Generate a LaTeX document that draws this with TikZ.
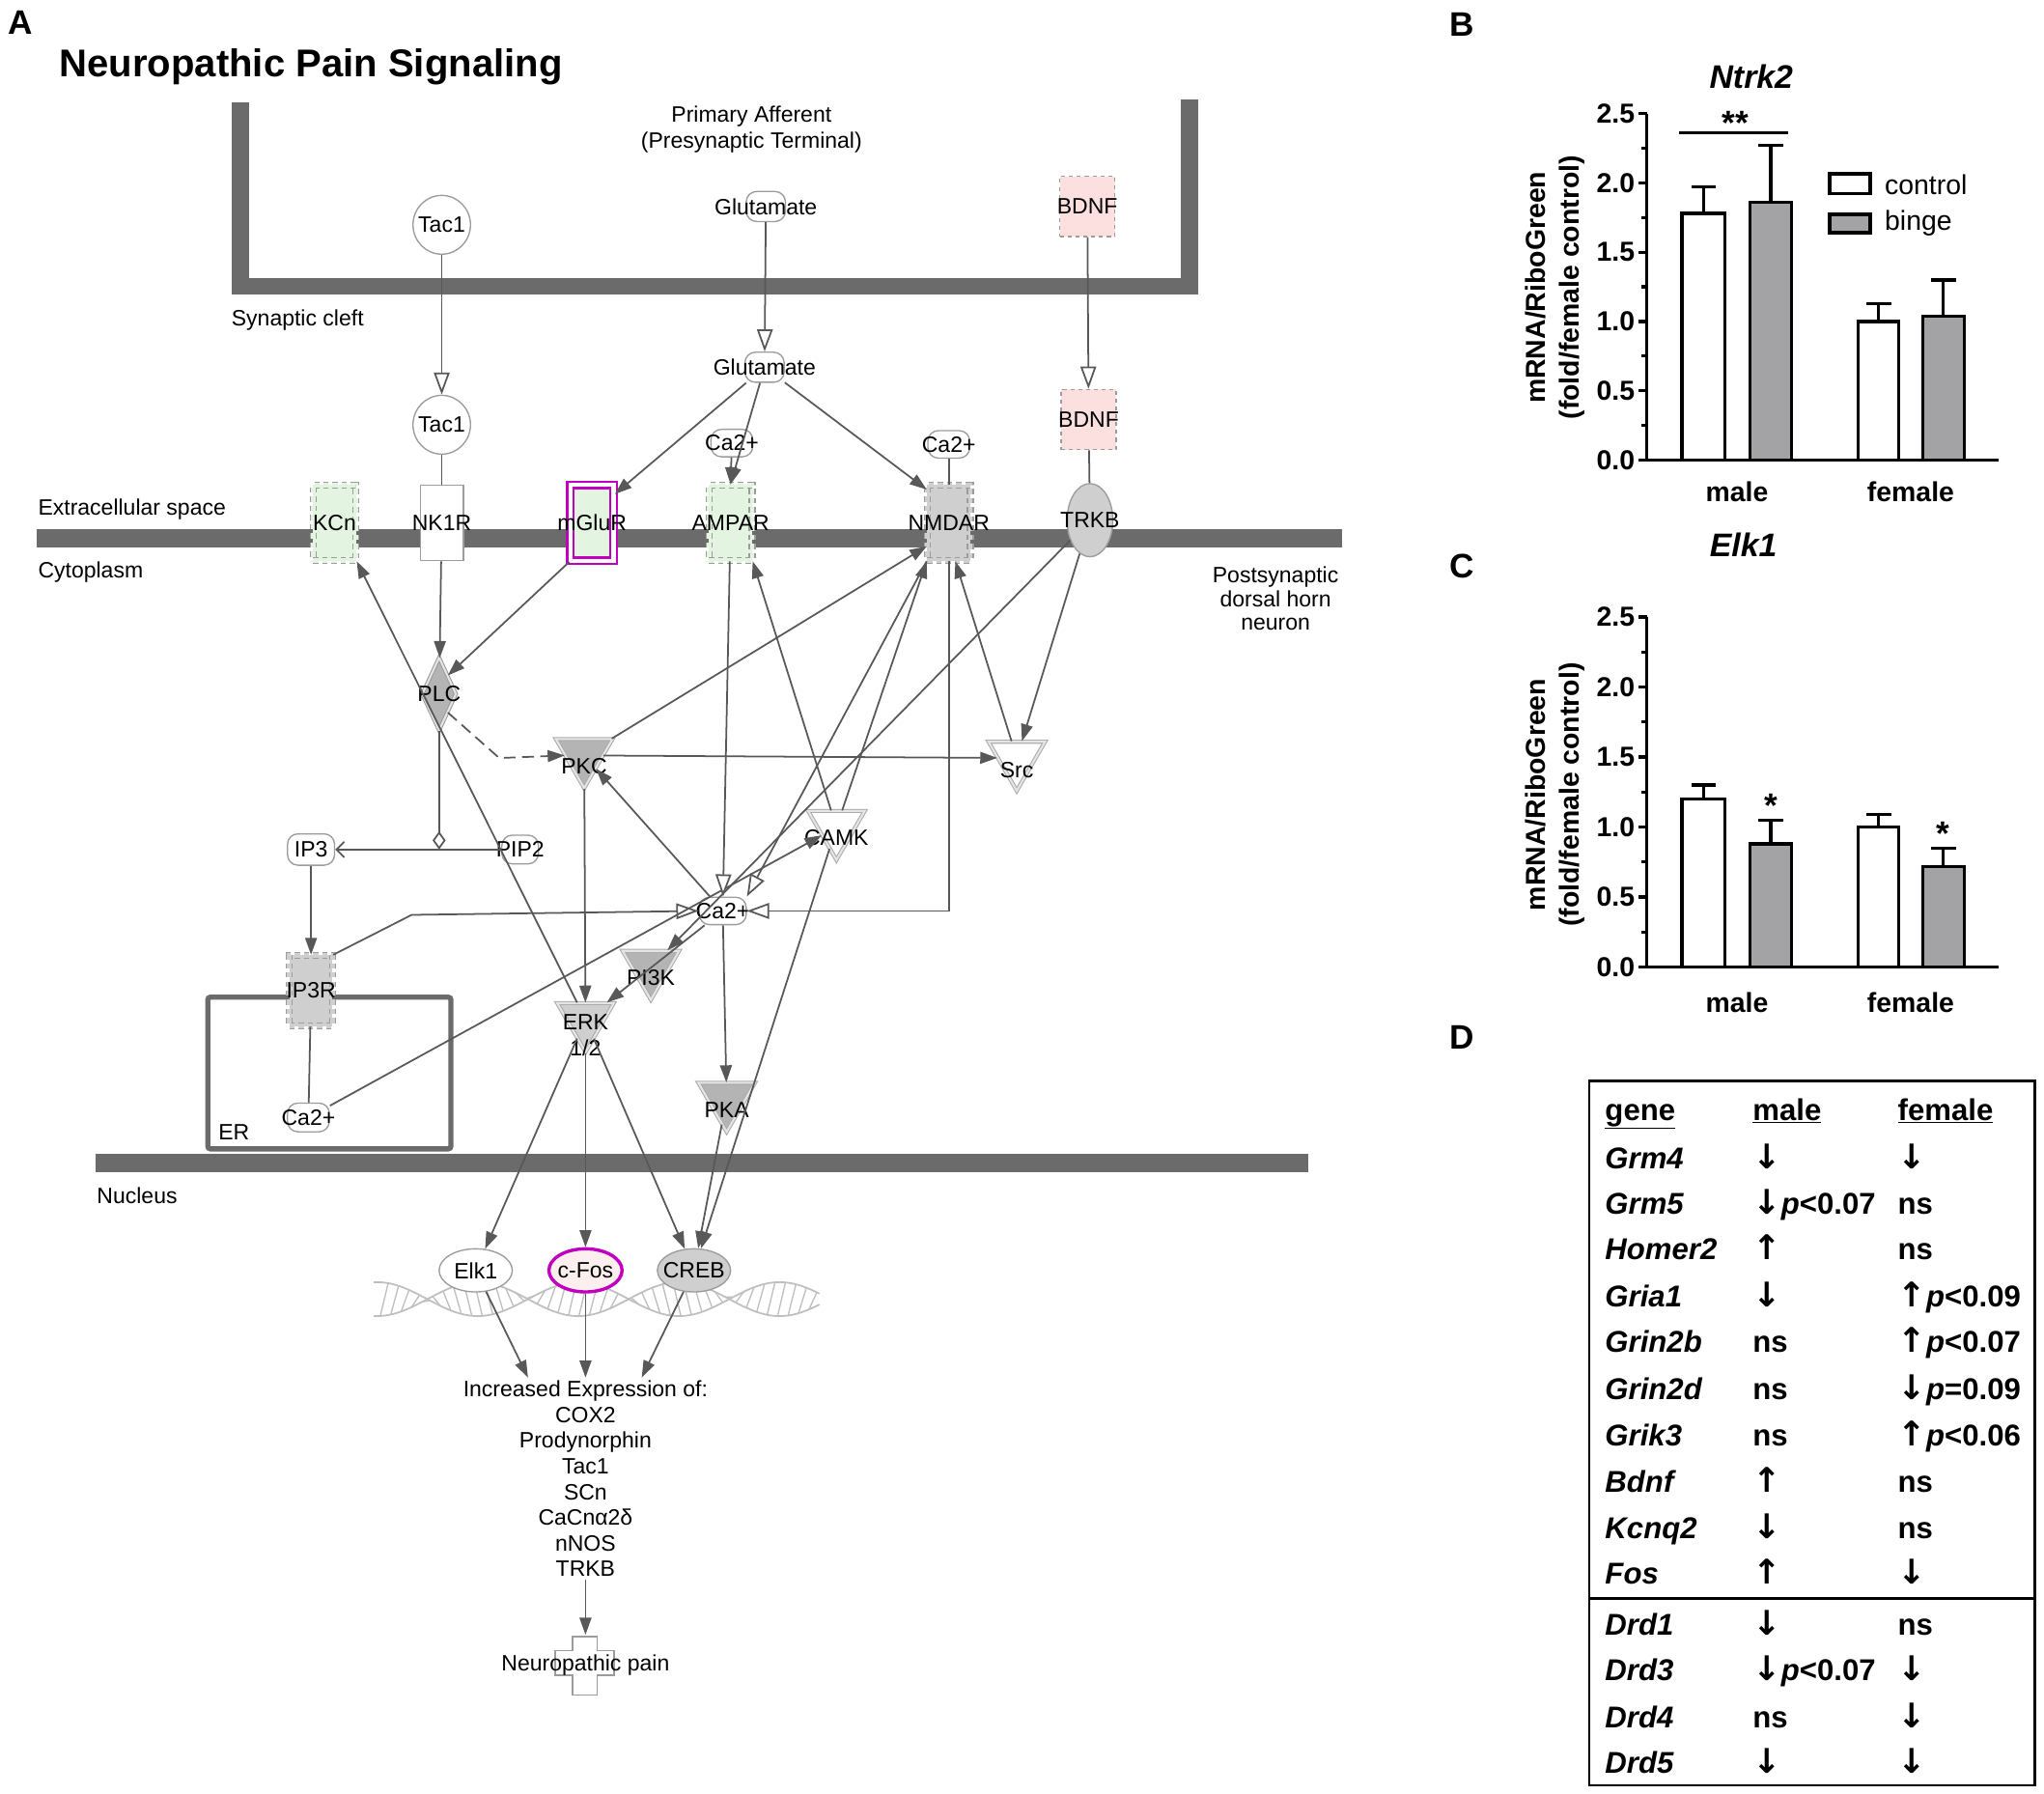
\documentclass[tikz,border=0pt]{standalone}
\usepackage{fontspec}
\setmainfont{Liberation Sans}
\newfontfamily\arrfont{DejaVu Sans}
\usetikzlibrary{arrows.meta, positioning, shapes.geometric}

\definecolor{membgray}{HTML}{6B6B6B}
\definecolor{linkgray}{HTML}{585858}
\definecolor{molgray}{HTML}{9C9C9C}
\definecolor{grnfill}{HTML}{E3F5E0}
\definecolor{pnkfill}{HTML}{FCE0E0}
\definecolor{gryfill}{HTML}{CFCFCF}
\definecolor{kingray}{HTML}{B4B4B4}
\definecolor{hilite}{HTML}{C000C0}
\definecolor{bingegray}{HTML}{A3A3A6}

\newcommand{\ovr}[1]{\makebox[0pt]{#1}}
\newcommand{\pv}[1]{\textit{p}#1}
\newcommand{\dn}{{\arrfont\bfseries\fontsize{26}{27}\selectfont ↓}}
\newcommand{\up}{{\arrfont\bfseries\fontsize{26}{27}\selectfont ↑}}

\tikzset{
  lbl/.style={font=\fontsize{17}{20}\selectfont},
  txt/.style={lbl, inner sep=1pt},
  memb/.style={draw=membgray, line width=14pt},
  link/.style={draw=linkgray, line width=1.3pt},
  act/.style={link, -{Triangle[length=13pt,width=9pt]}},
  trans/.style={link, -{Triangle[open,length=17pt,width=12pt,fill=white]}},
  mol/.style={lbl, draw=molgray, fill=white, line width=1pt, inner sep=0pt},
  smallmol/.style={mol, rounded corners=8pt, minimum width=30pt, minimum height=23pt},
  tac/.style={mol, ellipse, minimum width=44pt, minimum height=45pt},
  pinkrec/.style={mol, dashed, fill=pnkfill, minimum width=42pt, minimum height=46pt},
  rec/.style={mol, minimum width=33pt, minimum height=58pt},
  greenrec/.style={rec, dash pattern=on 4pt off 3pt, fill=grnfill, double=grnfill, double distance=3.5pt, line width=0.9pt},
  grayrec/.style={rec, dash pattern=on 4pt off 3pt, fill=gryfill, double=gryfill, double distance=3.5pt, line width=0.9pt},
  mglu/.style={rec, draw=hilite, line width=1.8pt, double=white, double distance=3pt, fill=grnfill},
  trk/.style={mol, ellipse, fill=gryfill, minimum width=35pt, minimum height=56pt},
  plcsh/.style={mol, diamond, fill=kingray, minimum width=26pt, minimum height=56pt, double=gray!20, double distance=1.5pt, line width=0.8pt},
  kin/.style={regular polygon, regular polygon sides=3, shape border rotate=180, minimum size=50pt, inner sep=0pt, draw=gray!65, line width=0.8pt, double=gray!20, double distance=1.5pt, fill=#1},
  nf/.style={mol, ellipse, minimum width=56pt, minimum height=33pt},
  dna/.style={draw=gray!50, line width=1.3pt},
  chaxis/.style={draw=black, line width=2.4pt},
  cbar/.style={draw=black, line width=2.4pt, fill=#1},
  ticklbl/.style={font=\bfseries\fontsize{21}{24}\selectfont, inner sep=0pt},
  cat/.style={font=\bfseries\fontsize{21}{24}\selectfont},
  ylab/.style={font=\bfseries\fontsize{21}{26}\selectfont, rotate=90, align=center},
  gtitle/.style={font=\bfseries\itshape\fontsize{25}{28}\selectfont},
  leg/.style={font=\fontsize{21}{24}\selectfont, anchor=west, inner sep=0pt},
  sig/.style={font=\bfseries\fontsize{26}{28}\selectfont},
  pnl/.style={font=\bfseries\fontsize{26}{28}\selectfont},
  tab/.style={font=\bfseries\fontsize{23}{27}\selectfont, anchor=base west, inner sep=0pt}
}

\begin{document}
\begin{tikzpicture}[x=1pt, y=-1pt]
\useasboundingbox (0,0) rectangle (1564,1372);

% Panel A: pathway
\node[pnl] (lA) at (16,17) {A};
\node[anchor=west, font=\bfseries\fontsize{29.6}{32}\selectfont] (title) at (42,51) {Neuropathic Pain Signaling};

% compartments
\draw[memb, line width=13pt] (184,78) -- (184,219) -- (910,219) -- (910,76);
\draw[memb] (28,412) -- (1027,412);
\draw[memb] (73,890) -- (1001,890);
\draw[draw=membgray, line width=4pt, rounded corners=2pt] (159,763) rectangle (345,879);
\node[lbl, align=center] (pa) at (575,99) {Primary Afferent\\(Presynaptic Terminal)};
\node[txt, anchor=west] (cleft) at (176,245) {Synaptic cleft};
\node[txt, anchor=west] (ecs) at (28,390) {Extracellular space};
\node[txt, anchor=west] (cyto) at (28,438) {Cytoplasm};
\node[txt, align=center, font=\fontsize{17}{18}\selectfont] (post) at (976,458) {Postsynaptic\\dorsal horn\\neuron};
\node[txt, anchor=west] (nucl) at (73,915) {Nucleus};
\node[txt, anchor=west] (erl) at (166,866) {ER};

% presynaptic and cleft molecules
\node[tac] (tacA) at (338,172) {\ovr{Tac1}};
\node[smallmol] (gluA) at (586,158) {\ovr{Glutamate}};
\node[pinkrec] (bdnfA) at (832,158) {\ovr{BDNF}};
\node[tac] (tacB) at (338,325) {\ovr{Tac1}};
\node[smallmol] (gluB) at (585,281) {\ovr{Glutamate}};
\node[pinkrec] (bdnfB) at (833,321) {\ovr{BDNF}};
\node[smallmol, minimum width=32pt, minimum height=21pt] (caA) at (560,339) {\ovr{Ca2+}};
\node[smallmol, minimum width=32pt, minimum height=21pt] (caN) at (726,340) {\ovr{Ca2+}};

% membrane receptors
\node[greenrec] (kcn) at (256,400) {\ovr{KCn}};
\node[rec] (nk1r) at (338,400) {\ovr{NK1R}};
\node[mglu] (mglur) at (453,400) {\ovr{mGluR}};
\node[greenrec] (ampar) at (559,400) {\ovr{AMPAR}};
\node[grayrec] (nmdar) at (726,400) {\ovr{NMDAR}};
\node[trk] (trkb) at (834,398) {\ovr{TRKB}};

% cytoplasm
\node[plcsh] (plc) at (336,531) {\ovr{PLC}};
\node[kin=kingray, label={[lbl,yshift=-8pt]center:PKC}] (pkc) at (447,578) {};
\node[kin=white, label={[lbl,yshift=-9pt]center:Src}] (src) at (778,580) {};
\node[smallmol, minimum width=36pt, minimum height=24pt] (ip3) at (238,650) {\ovr{IP3}};
\node[smallmol, minimum width=28pt, minimum height=22pt] (pip2) at (398,650) {\ovr{PIP2}};
\coordinate (plcmid) at (336,650);
\node[kin=white, label={[lbl,yshift=-8pt]center:CAMK}] (camk) at (640,633) {};
\node[smallmol, minimum width=36pt, minimum height=21pt] (ca) at (553,697) {\ovr{Ca2+}};
\node[grayrec, minimum height=54pt] (ip3r) at (238,758) {\ovr{IP3R}};
\node[kin=kingray, label={[lbl,yshift=-8pt]center:PI3K}] (pi3k) at (498,740) {};
\node[kin=gryfill, label={[lbl,align=center,yshift=-12pt]center:ERK\\1/2}] (erk) at (448,780) {};
\node[smallmol, minimum width=32pt, minimum height=22pt] (caER) at (236,855) {\ovr{Ca2+}};
\node[kin=kingray, label={[lbl,yshift=-8pt]center:PKA}] (pka) at (556,841) {};

% nucleus
\draw[dna] plot[domain=286:627, samples=100] (\x, {994-13*sin(2.3377*(\x-327))});
\draw[dna] plot[domain=286:627, samples=100] (\x, {994+13*sin(2.3377*(\x-327))});
\foreach \x in {291,299,...,619}
  \draw[dna, line width=1pt] (\x,{994-13*sin(2.3377*(\x-327))}) -- (\x+6,{994+13*sin(2.3377*(\x-321))});
\node[nf] (elk1) at (364,972) {\ovr{Elk1}};
\node[nf, draw=hilite, line width=2.5pt, fill=pnkfill!50] (cfos) at (448,972) {\ovr{c-Fos}};
\node[nf, fill=gryfill] (creb) at (531,972) {\ovr{CREB}};
\node[lbl, align=center, anchor=north, inner sep=2pt, font=\fontsize{17}{19.7}\selectfont] (expr) at (448,1054)
  {Increased Expression of:\\COX2\\Prodynorphin\\Tac1\\SCn\\CaCnα2δ\\nNOS\\TRKB};
\draw[draw=molgray, fill=white, line width=1.2pt] (438,1252) -- (457,1252) -- (457,1263) -- (470,1263)
  -- (470,1282) -- (457,1282) -- (457,1297) -- (438,1297) -- (438,1282) -- (425,1282) -- (425,1263)
  -- (438,1263) -- cycle;
\node[lbl, minimum width=46pt, minimum height=46pt, inner sep=0pt] (pain) at (448,1274) {\ovr{Neuropathic pain}};

% connectors
\draw[trans] (tacA) -- (tacB);
\draw[trans] (gluA) -- (gluB);
\draw[trans] (bdnfA) -- (bdnfB);
\draw[link] (tacB) -- (nk1r);
\draw[link] (bdnfB) -- (trkb);
\draw[act] (gluB) -- ([yshift=-8pt]mglur.north east);
\draw[act] (gluB) -- (ampar.north);
\draw[act] (caA) -- (ampar.north);
\draw[act] (gluB) -- ([yshift=-4pt]nmdar.north west);
\draw[link] (caN) -- (nmdar);
\draw[act] (nk1r) -- (plc);
\draw[act] (mglur.south west) -- (plc.north east);
\draw[act, dash pattern=on 9pt off 5pt] (plc.south east) -- (382,580) -- (pkc.west);
\draw[link, -{Straight Barb[length=6pt,width=12pt]}] (pip2) -- (ip3);
\draw[link, -{Diamond[open,length=14pt,width=10pt,fill=white]}] (plc) -- (plcmid);
\draw[act] (ip3) -- (ip3r);
\draw[link] (ip3r) -- (caER);
\draw[trans] (ip3r.north east) -- (315,700) -- (ca.west);
\draw[act] (caER) -- (camk);
\draw[trans] (ampar) -- (ca);
\draw[trans] (nmdar.south west) -- (ca.north east);
\draw[trans] (nmdar.south) |- (ca.east);
\draw[act] (ca) -- (pkc);
\draw[act] (ca) -- (erk);
\draw[act] (ca) -- (pka);
\draw[act] (trkb) -- (pi3k);
\draw[act] (trkb) -- (src);
\draw[act] (pkc) -- (src);
\draw[act] (pkc) -- ([yshift=-18pt]nmdar.west);
\draw[act] (pkc) -- (erk);
\draw[act] (src) -- ([xshift=5pt]nmdar.south);
\draw[act] (camk) -- (ampar.south east);
\draw[act] (camk) -- (nmdar.south west);
\draw[act] (camk) -- (creb);
\draw[act] (pka) -- (creb);
\draw[act] (erk) -- (kcn.south east);
\draw[act] (erk) -- (elk1);
\draw[act] (erk) -- (cfos);
\draw[act] (erk) -- (creb);
\draw[act] (elk1) -- ([xshift=-44pt]expr.north);
\draw[act] (cfos) -- (expr.north);
\draw[act] (creb) -- ([xshift=43pt]expr.north);
\draw[act] (expr) -- (pain);

% Panel B: Ntrk2
\node[pnl] (lB) at (1119,19) {B};
\node[gtitle] (tB) at (1340,59) {Ntrk2};
\node[ylab] (yB) at (1190,220) {mRNA/RiboGreen\\(fold/female control)};
\begin{scope}[shift={(0,352)}, y=106pt]
  \foreach \v/\t [count=\i] in {0/0.0,0.5/0.5,1/1.0,1.5/1.5,2/2.0,2.5/2.5} {
    \draw[chaxis] (1254,\v) -- (1260,\v);
    \node[ticklbl, anchor=east] (bt\i) at (1251,\v) {\t};
  }
  \foreach \v in {0.25,0.75,...,2.25} \draw[chaxis] (1256,\v) -- (1260,\v);
  \draw[chaxis] (1260,2.5) -- (1260,0) -- (1529,0);
  \draw[chaxis] (1303.5,1.78) -- (1303.5,1.97) (1294,1.97) -- (1313,1.97);
  \draw[cbar=white] (1287,0) rectangle (1320,1.78);
  \draw[chaxis] (1355,1.86) -- (1355,2.27) (1345.5,2.27) -- (1364.5,2.27);
  \draw[cbar=bingegray] (1339,0) rectangle (1371,1.86);
  \draw[chaxis] (1437.5,1.00) -- (1437.5,1.13) (1428,1.13) -- (1447,1.13);
  \draw[cbar=white] (1422,0) rectangle (1453,1.00);
  \draw[chaxis] (1487,1.04) -- (1487,1.30) (1477.5,1.30) -- (1496.5,1.30);
  \draw[cbar=bingegray] (1471,0) rectangle (1503,1.04);
  \draw[chaxis] (1285,2.36) -- (1368,2.36);
  \node[sig] (bss) at (1328,2.43) {**};
\end{scope}
\draw[cbar=white] (1400,133) rectangle (1431,148);
\node[leg] (lc) at (1442,141) {control};
\draw[cbar=bingegray] (1400,164) rectangle (1431,178);
\node[leg] (lb) at (1442,171) {binge};
\node[cat] (bm) at (1329,376) {male};
\node[cat] (bf) at (1462,376) {female};

% Panel C: Elk1
\node[pnl] (lC) at (1119,433) {C};
\node[gtitle] (tC) at (1334,417) {Elk1};
\node[ylab] (yC) at (1190,608) {mRNA/RiboGreen\\(fold/female control)};
\begin{scope}[shift={(0,740)}, y=107.2pt]
  \foreach \v/\t [count=\i] in {0/0.0,0.5/0.5,1/1.0,1.5/1.5,2/2.0,2.5/2.5} {
    \draw[chaxis] (1254,\v) -- (1260,\v);
    \node[ticklbl, anchor=east] (ct\i) at (1251,\v) {\t};
  }
  \foreach \v in {0.25,0.75,...,2.25} \draw[chaxis] (1256,\v) -- (1260,\v);
  \draw[chaxis] (1260,2.5) -- (1260,0) -- (1529,0);
  \draw[chaxis] (1303.5,1.20) -- (1303.5,1.30) (1294,1.30) -- (1313,1.30);
  \draw[cbar=white] (1287,0) rectangle (1320,1.20);
  \draw[chaxis] (1355,0.88) -- (1355,1.05) (1345.5,1.05) -- (1364.5,1.05);
  \draw[cbar=bingegray] (1339,0) rectangle (1371,0.88);
  \draw[chaxis] (1437.5,1.00) -- (1437.5,1.09) (1428,1.09) -- (1447,1.09);
  \draw[cbar=white] (1422,0) rectangle (1453,1.00);
  \draw[chaxis] (1487,0.72) -- (1487,0.85) (1477.5,0.85) -- (1496.5,0.85);
  \draw[cbar=bingegray] (1471,0) rectangle (1503,0.72);
  \node[sig] (cs1) at (1355,1.15) {*};
  \node[sig] (cs2) at (1487,0.95) {*};
\end{scope}
\node[cat] (cm) at (1329,767) {male};
\node[cat] (cf) at (1462,767) {female};

% Panel D: table
\node[pnl] (lD) at (1119,794) {D};
\draw[line width=2pt] (1216,827) rectangle (1557,1366);
\draw[line width=1.6pt] (1216,1223) -- (1557,1223);
\node[tab] (hg) at (1228,857) {\underline{gene}};
\node[tab] (hm) at (1341,857) {\underline{male}};
\node[tab] (hf) at (1452,857) {\underline{female}};
\foreach \g/\m/\f/\yy [count=\i] in {Grm4/\dn/\dn/886, Grm5/\dn\pv{<0.07}/ns/921, Homer2/\up/ns/956,
    Gria1/\dn/\up\pv{<0.09}/992, Grin2b/ns/\up\pv{<0.07}/1027, Grin2d/ns/\dn\pv{=0.09}/1063,
    Grik3/ns/\up\pv{<0.06}/1098, Bdnf/\up/ns/1134, Kcnq2/\dn/ns/1169, Fos/\up/\dn/1204,
    Drd1/\dn/ns/1243, Drd3/\dn\pv{<0.07}/\dn/1278, Drd4/ns/\dn/1314, Drd5/\dn/\dn/1349} {
  \node[tab] (g\i) at (1228,\yy+8) {\textit{\g}};
  \node[tab] (m\i) at (1341,\yy+8) {\m};
  \node[tab] (f\i) at (1452,\yy+8) {\f};
}
\end{tikzpicture}
\end{document}
